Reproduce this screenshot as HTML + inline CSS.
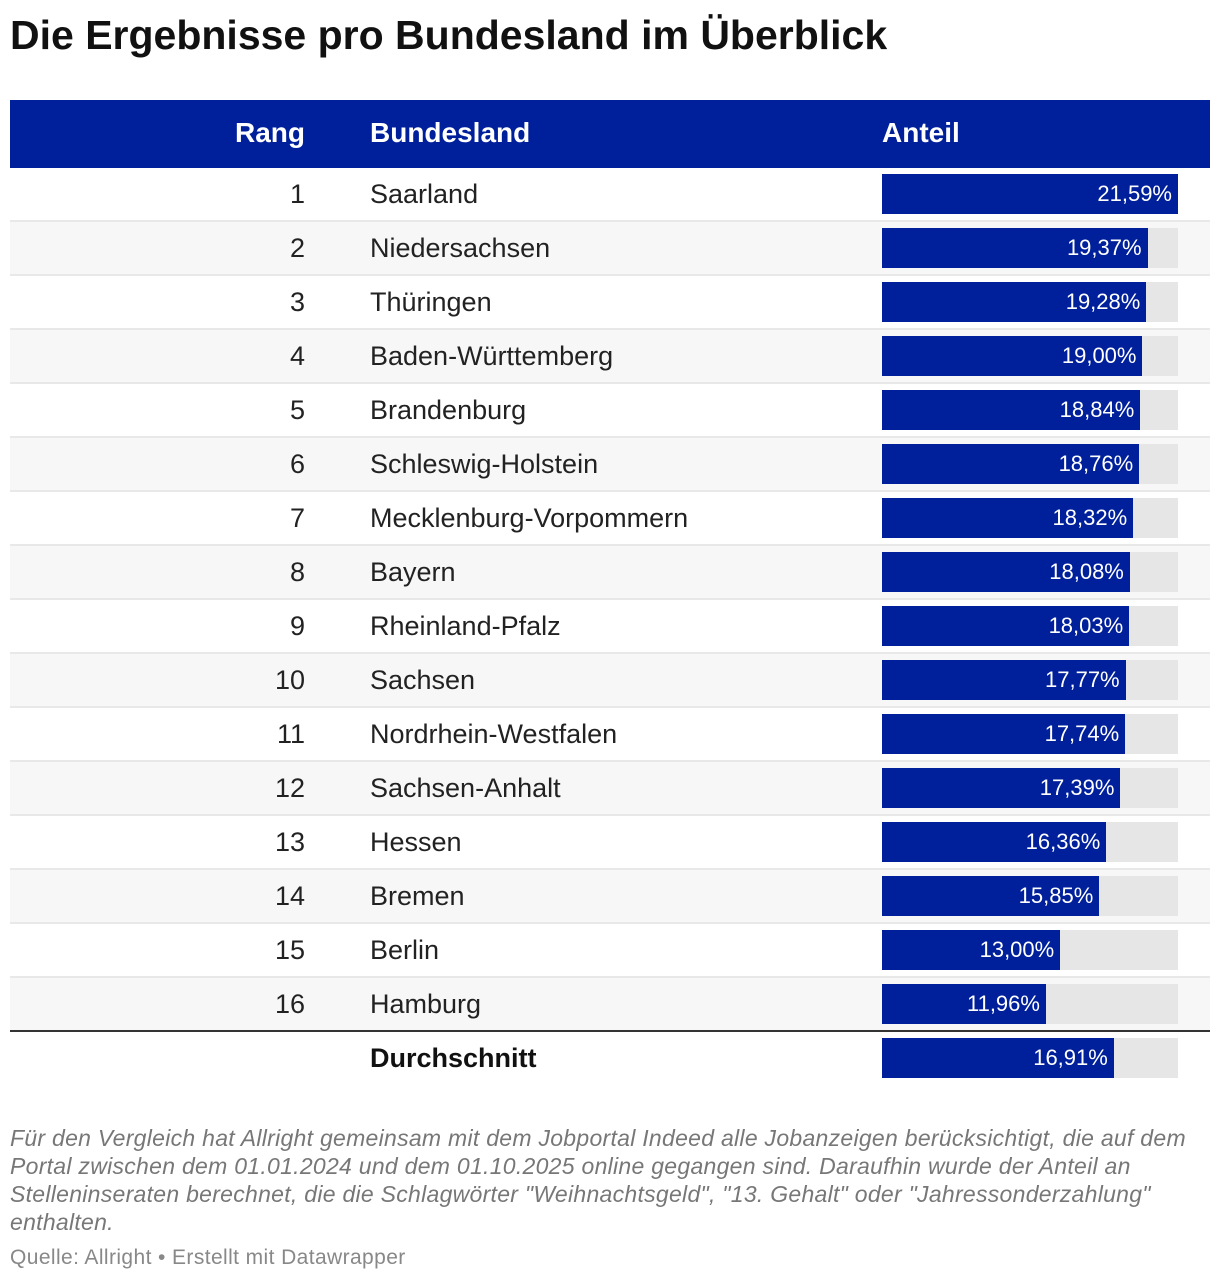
<!DOCTYPE html>
<html><head><meta charset="utf-8"><style>
body{margin:0;width:1220px;height:1282px;background:#fff;font-family:"Liberation Sans",sans-serif;position:relative;overflow:hidden;color:#222}
.a{position:absolute;white-space:nowrap}
</style></head><body>
<div class="a" style="left:10px;top:12px;font-size:41px;font-weight:bold;color:#111">Die Ergebnisse pro Bundesland im Überblick</div>
<div class="a" style="left:10px;top:100px;width:1200px;height:68px;background:#00209b"></div>
<div class="a" style="left:205px;width:100px;text-align:right;top:117px;font-size:28px;font-weight:bold;color:#fff">Rang</div>
<div class="a" style="left:370px;top:117px;font-size:28px;font-weight:bold;color:#fff">Bundesland</div>
<div class="a" style="left:882px;top:117px;font-size:28px;font-weight:bold;color:#fff">Anteil</div>
<div id="rows"></div>
<div class="a" style="left:10px;top:1124px;font-size:23px;letter-spacing:0.28px;line-height:28px;font-style:italic;color:#777">Für den Vergleich hat Allright gemeinsam mit dem Jobportal Indeed alle Jobanzeigen berücksichtigt, die auf dem<br>Portal zwischen dem 01.01.2024 und dem 01.10.2025 online gegangen sind. Daraufhin wurde der Anteil an<br>Stelleninseraten berechnet, die die Schlagwörter "Weihnachtsgeld", "13. Gehalt" oder "Jahressonderzahlung"<br>enthalten.</div>
<div class="a" style="left:10px;top:1246px;font-size:21px;letter-spacing:0.4px;color:#888">Quelle: Allright • Erstellt mit Datawrapper</div>
<script>
const states=["Saarland","Niedersachsen","Thüringen","Baden-Württemberg","Brandenburg","Schleswig-Holstein","Mecklenburg-Vorpommern","Bayern","Rheinland-Pfalz","Sachsen","Nordrhein-Westfalen","Sachsen-Anhalt","Hessen","Bremen","Berlin","Hamburg"];
const values=[21.59,19.37,19.28,19.00,18.84,18.76,18.32,18.08,18.03,17.77,17.74,17.39,16.36,15.85,13.00,11.96];
const avgValue=16.91;
const maxV=Math.max(...values,avgValue);
const root=document.getElementById('rows');
function fmt(v){return v.toFixed(2).replace('.',',')+'%';}
function x(v){return v/maxV*296;}
function row(i,label,rank,v,bold,last){
  const top=168+i*54;
  const r=document.createElement('div');r.className='a';
  
  
  r.style.cssText=`left:10px;top:${top}px;width:1200px;height:52px;background:${(i%2&&!last)?'#f7f7f7':'#fff'};border-bottom:2px solid ${last?'transparent':(i==15?'#333':'#e8e8e8')}`;
  root.appendChild(r);
  const rk=document.createElement('div');rk.className='a';
  
  
  rk.style.cssText=`left:205px;width:100px;text-align:right;top:${top+11}px;font-size:27px`;
  rk.textContent=rank;root.appendChild(rk);
  const n=document.createElement('div');n.className='a';
  
  
  n.style.cssText=`left:370px;top:${top+11}px;font-size:27px;${bold?'font-weight:bold;color:#111':''}`;
  n.textContent=label;root.appendChild(n);
  const bg=document.createElement('div');bg.className='a';
  
  
  bg.style.cssText=`left:882px;top:${top+6}px;width:296px;height:40px;background:#e6e6e6`;root.appendChild(bg);
  const b=document.createElement('div');b.className='a';
  
  
  b.style.cssText=`left:882px;top:${top+6}px;width:${x(v)}px;height:40px;background:#00209b;color:#fff;font-size:22px;line-height:40px;text-align:right;box-sizing:border-box;padding-right:6px`;
  b.textContent=fmt(v);root.appendChild(b);
}
states.forEach((s,i)=>row(i,s,i+1,values[i],false,false));
row(16,'Durchschnitt','',avgValue,true,true);
</script>
</body></html>
